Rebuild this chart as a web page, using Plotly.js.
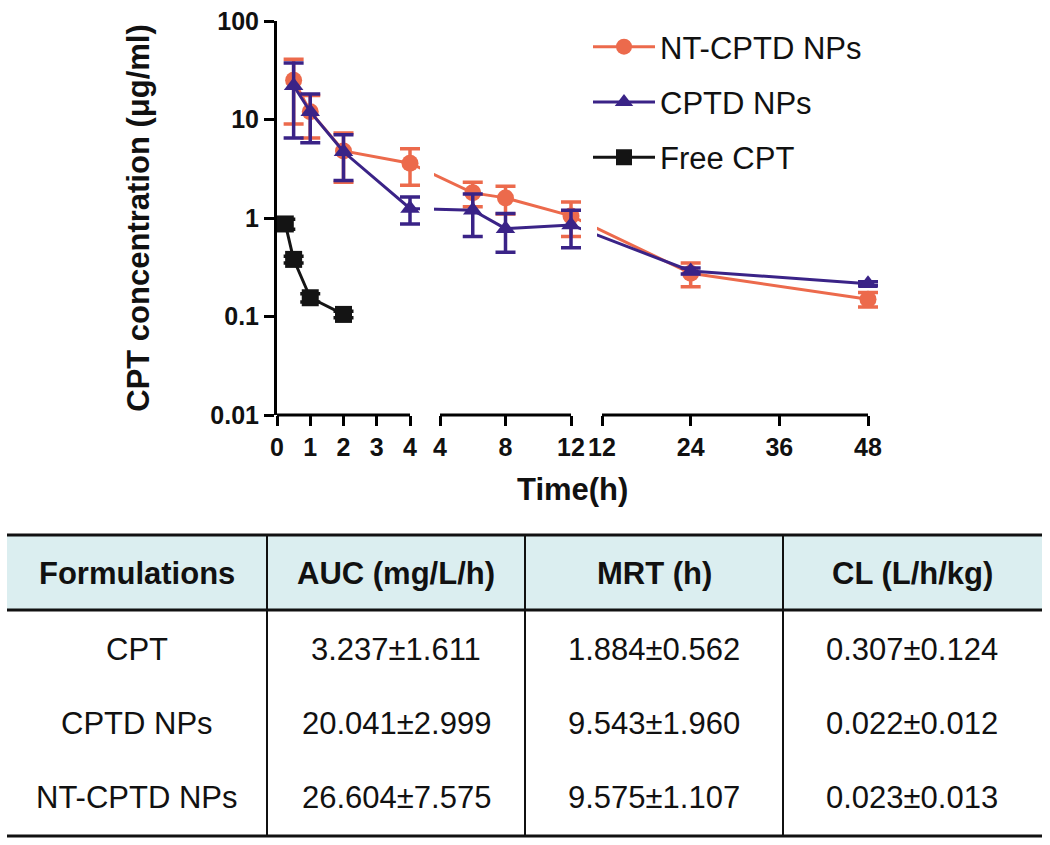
<!DOCTYPE html>
<html>
<head>
<meta charset="utf-8">
<script src="https://cdn.plot.ly/plotly-3.0.1.min.js"></script>
<style>
html,body{margin:0;padding:0;background:#fff;}
#chart{width:1050px;height:845px;}
</style>
</head>
<body>
<div id="chart"></div>
<script>
// ---------------- data ----------------
const seriesNames = ["NT-CPTD NPs", "CPTD NPs", "Free CPT"];

const timeNT  = [0.5, 1, 2, 4, 6, 8, 12, 24, 48];
const concNT  = [25, 12, 4.8, 3.6, 1.8, 1.6, 1.05, 0.275, 0.15];
const errNT   = [16, 5.5, 2.5, 1.45, 0.5, 0.5, 0.4, 0.075, 0.025];

const timeCPTD = [0.5, 1, 2, 4, 6, 8, 12, 24, 48];
const concCPTD = [22, 12, 4.7, 1.25, 1.2, 0.78, 0.85, 0.29, 0.215];
const errCPTD  = [15.5, 6.2, 2.3, 0.38, 0.55, 0.33, 0.35, 0.02, 0.01];

const timeFree = [0.25, 0.5, 1, 2];
const concFree = [0.87, 0.38, 0.155, 0.105];
const errFree  = [0.1, 0.03, 0.015, 0.008];

const yTickVals = [0.01, 0.1, 1, 10, 100];
const yTickText = ["0.01", "0.1", "1", "10", "100"];

// broken x axis: segments of time, each with its own tick labels
const segTimeStart = [0, 4, 12];
const segTimeEnd   = [4, 12, 48];
const segTicks     = [[0, 1, 2, 3, 4], [4, 8, 12], [12, 24, 36, 48]];

// table
const tableHeader   = ["Formulations", "AUC (mg/L/h)", "MRT (h)", "CL (L/h/kg)"];
const formulations  = ["CPT", "CPTD NPs", "NT-CPTD NPs"];
const aucValues     = ["3.237±1.611", "20.041±2.999", "26.604±7.575"];
const mrtValues     = ["1.884±0.562", "9.543±1.960", "9.575±1.107"];
const clValues      = ["0.307±0.124", "0.022±0.012", "0.023±0.013"];

// ---------------- layout geometry ----------------
const W = 1050, H = 845;
const plotL = 277, plotW = 610, plotT = 21, plotB = 415;
const plotH = plotB - plotT;
// pixel extent (relative to plot left) of each axis segment
const segPxStart = [0, 163, 325];
const segPxEnd   = [133, 294, 591];

function segIndex(t) {
  if (t <= segTimeEnd[0]) return 0;
  if (t <= segTimeEnd[1]) return 1;
  return 2;
}
function mapT(t, s) {
  if (s === undefined) s = segIndex(t);
  return segPxStart[s] + (t - segTimeStart[s]) / (segTimeEnd[s] - segTimeStart[s]) * (segPxEnd[s] - segPxStart[s]);
}
const px = x => (x - plotL) / plotW;
const py = y => (plotB - y) / plotH;

const FONT = "Liberation Sans, Arial, sans-serif";
const colNT = "#EC6A4C", colCPTD = "#3A2387", colFree = "#141414";

function mkTrace(name, t, c, e, color, symbol, group) {
  return {
    type: "scatter", mode: "lines+markers", name: name,
    legendgroup: group,
    x: t.map(v => mapT(v)), y: c,
    line: {color: color, width: 3},
    marker: {color: color, symbol: symbol, size: 17, line: {width: 0}},
    error_y: {type: "data", array: e, visible: true, color: color, thickness: 3.5, width: 10},
    cliponaxis: false
  };
}

const traces = [
  mkTrace(seriesNames[0], timeNT, concNT, errNT, colNT, "circle", "g1"),
  mkTrace(seriesNames[1], timeCPTD, concCPTD, errCPTD, colCPTD, "triangle-up", "g2"),
  mkTrace(seriesNames[2], timeFree, concFree, errFree, colFree, "square", "g3")
];

// ticks
const tickVals = [], tickText = [];
segTicks.forEach((arr, s) => arr.forEach(t => { tickVals.push(mapT(t, s)); tickText.push(String(t)); }));

const shapes = [];
// masks for the axis gaps (hide connecting lines)
shapes.push({type: "rect", xref: "x", yref: "paper", x0: 143, x1: 157, y0: 0.35, y1: 0.75, fillcolor: "#fff", line: {width: 0}, layer: "above"});
shapes.push({type: "rect", xref: "x", yref: "paper", x0: 304, x1: 320, y0: 0.35, y1: 0.65, fillcolor: "#fff", line: {width: 0}, layer: "above"});
// broken x axis line
for (let s = 0; s < 3; s++) {
  shapes.push({type: "line", xref: "x", yref: "paper", x0: mapT(segTimeStart[s], s) - (s === 0 ? 1.5 : 0), x1: mapT(segTimeEnd[s], s), y0: 0, y1: 0,
    line: {color: "#000", width: 3}, layer: "above"});
}

// table drawing
const tL = 7, tR = 1042, tTop = 535, tHead = 610, tBot = 836;
const colX = [267, 525, 783];
const colCenters = [137, 396, 654, 912];
const rowCenters = [649, 723, 797];
shapes.push({type: "rect", xref: "paper", yref: "paper", x0: px(tL), x1: px(tR), y0: py(tTop), y1: py(tHead), fillcolor: "#DBEEF0", line: {width: 0}});
[tTop, tHead, tBot].forEach(y => shapes.push({type: "line", xref: "paper", yref: "paper", x0: px(tL), x1: px(tR), y0: py(y), y1: py(y), line: {color: "#111", width: 3}}));
colX.forEach(x => shapes.push({type: "line", xref: "paper", yref: "paper", x0: px(x), x1: px(x), y0: py(tTop), y1: py(tBot), line: {color: "#111", width: 2}}));

const annotations = [];
annotations.push({text: "Time(h)", xref: "paper", yref: "paper", x: px(572), y: py(489), xanchor: "center", yanchor: "middle",
  showarrow: false, font: {family: FONT, size: 31, color: "#111", weight: "bold"}});
tableHeader.forEach((h, i) => annotations.push({text: h, xref: "paper", yref: "paper", x: px(colCenters[i]), y: py(573),
  xanchor: "center", yanchor: "middle", showarrow: false, font: {family: FONT, size: 31, color: "#111", weight: "bold"}}));
const cols = [formulations, aucValues, mrtValues, clValues];
cols.forEach((col, i) => col.forEach((v, r) => annotations.push({text: v, xref: "paper", yref: "paper",
  x: px(colCenters[i]), y: py(rowCenters[r]), xanchor: "center", yanchor: "middle", showarrow: false,
  font: {family: FONT, size: 31, color: "#111"}})));

const layout = {
  width: W, height: H,
  margin: {l: plotL, r: W - plotL - plotW, t: plotT, b: H - plotB, pad: 0},
  paper_bgcolor: "#fff", plot_bgcolor: "#fff",
  font: {family: FONT, color: "#111"},
  showlegend: true,
  legend: {x: px(588), y: py(20), xanchor: "left", yanchor: "top", bgcolor: "rgba(0,0,0,0)",
    font: {family: FONT, size: 31, color: "#111"}, traceorder: "grouped", tracegroupgap: 12, itemwidth: 62},
  xaxis: {range: [0, plotW], showline: false, zeroline: false, showgrid: false,
    tickmode: "array", tickvals: tickVals, ticktext: tickText,
    ticks: "outside", ticklen: 10, tickwidth: 3, tickcolor: "#000",
    tickfont: {family: FONT, size: 25, color: "#111", weight: "bold"}, fixedrange: true},
  yaxis: {type: "log", range: [-2, 2], showline: true, linewidth: 3, linecolor: "#000", zeroline: false, showgrid: false,
    tickmode: "array", tickvals: yTickVals, ticktext: yTickText,
    ticks: "outside", ticklen: 10, tickwidth: 3, tickcolor: "#000",
    tickfont: {family: FONT, size: 25, color: "#111", weight: "bold"},
    title: {text: "CPT concentration (μg/ml)", font: {family: FONT, size: 31, color: "#111", weight: "bold"}, standoff: 52}},
  shapes: shapes,
  annotations: annotations
};

Plotly.newPlot("chart", traces, layout, {displayModeBar: false, staticPlot: true});
</script>
</body>
</html>
